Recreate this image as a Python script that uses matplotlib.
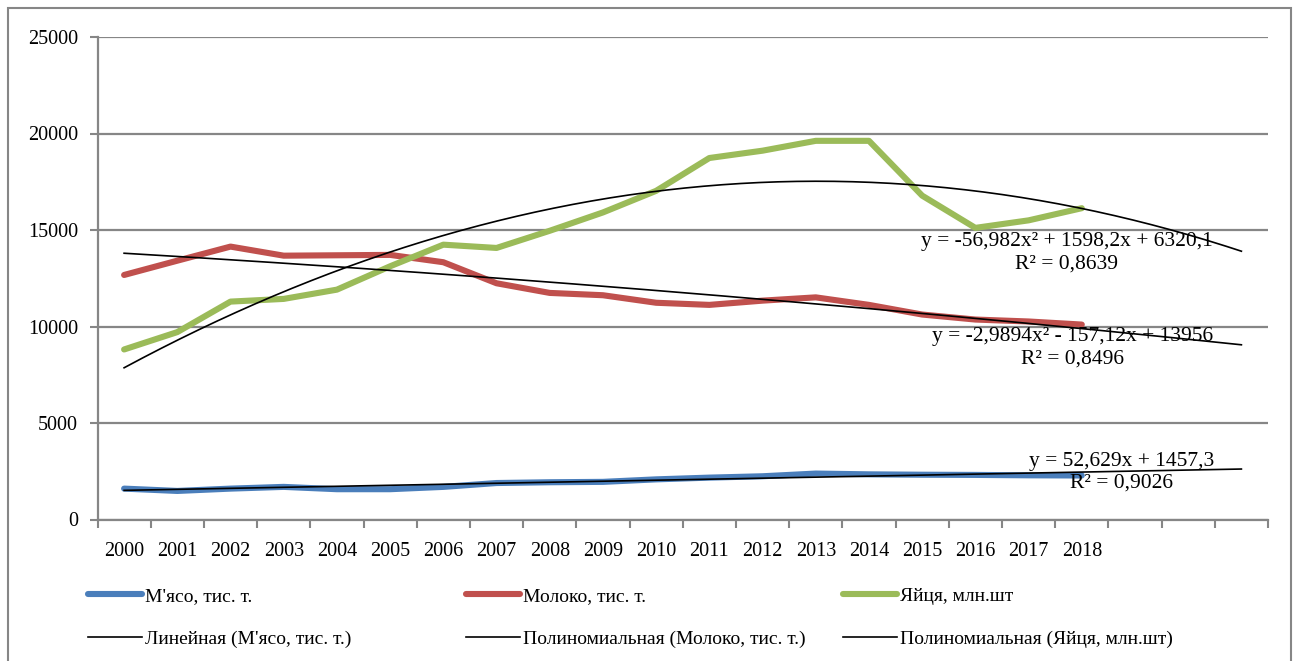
import numpy as np
import matplotlib
matplotlib.use("Agg")
import matplotlib.pyplot as plt
from matplotlib.patches import Rectangle

plt.rcParams['font.family'] = ['Liberation Serif', 'DejaVu Serif']

years = list(range(2000, 2019))
n_forecast = 3

meat = [1600, 1480, 1600, 1690, 1570, 1570, 1690, 1890, 1930, 1950,
        2080, 2170, 2240, 2380, 2340, 2320, 2310, 2290, 2280]
milk = [12670, 13410, 14140, 13670, 13690, 13710, 13330, 12240, 11740, 11620,
        11230, 11120, 11340, 11510, 11120, 10620, 10360, 10260, 10100]
eggs = [8810, 9710, 11290, 11430, 11910, 13120, 14240, 14070, 14960, 15910,
        17030, 18730, 19110, 19620, 19620, 16780, 15110, 15500, 16130]

names = ["М'ясо, тис. т.", "Молоко, тис. т.", "Яйця, млн.шт"]
trend_names = ["Линейная (М'ясо, тис. т.)", "Полиномиальная (Молоко, тис. т.)",
               "Полиномиальная (Яйця, млн.шт)"]
colors = ["#4A7EBB", "#C0504D", "#9BBB59"]

# trendline coefficients as printed on the chart (highest power first)
meat_trend = [52.629, 1457.3]
milk_trend = [-2.9894, -157.12, 13956]
eggs_trend = [-56.982, 1598.2, 6320.1]
trend_labels = ["y = 52,629x + 1457,3\nR² = 0,9026",
                "y = -2,9894x² - 157,12x + 13956\nR² = 0,8496",
                "y = -56,982x² + 1598,2x + 6320,1\nR² = 0,8639"]
label_pos = [(19.74, 2430), (18.82, 8900), (18.72, 13820)]

W, H = 1298, 661
fig = plt.figure(figsize=(W / 100, H / 100), dpi=100)
ax = fig.add_axes([97.5 / W, 1 - 519.5 / H, (1268 - 97.5) / W, (519.5 - 37) / H])

x = np.arange(1, len(years) + 1)
xt = np.linspace(1, len(years) + n_forecast, 300)

data_lines = []
for vals, c, nm in zip([meat, milk, eggs], colors, names):
    l, = ax.plot(x, vals, color=c, lw=4.4, label=nm, solid_capstyle='round', zorder=3)
    data_lines.append(l)

trend_lines = []
for coefs, nm in zip([meat_trend, milk_trend, eggs_trend], trend_names):
    l, = ax.plot(xt, np.polyval(coefs, xt), color='black', lw=1.2, label=nm, zorder=4)
    trend_lines.append(l)

for (tx, ty), txt in zip(label_pos, trend_labels):
    ax.text(tx, ty, txt, ha='center', va='center', multialignment='center',
            fontsize=15.5, linespacing=1.2, zorder=5)

grid_c = '#868686'
ax.set_xlim(0.5, len(years) + n_forecast + 0.5)
ax.set_ylim(0, 25000)
ax.set_yticks(np.arange(0, 25001, 5000))
ax.yaxis.grid(True, color=grid_c, lw=1.6)
ax.set_axisbelow(True)
for s in ['top', 'right']:
    ax.spines[s].set_visible(False)
for s in ['left', 'bottom']:
    ax.spines[s].set_color(grid_c)
    ax.spines[s].set_linewidth(1.6)

ax.set_xticks(np.arange(0.5, len(years) + n_forecast + 1, 1))
ax.set_xticklabels([])
ax.set_xticks(x, minor=True)
ax.set_xticklabels([str(y) for y in years], minor=True)
ax.tick_params(axis='x', which='major', length=6, width=1.5, color=grid_c, direction='out')
ax.tick_params(axis='x', which='minor', length=0, pad=16, labelsize=14.5)
ax.tick_params(axis='y', length=6, width=1.5, color=grid_c, pad=8, labelsize=14.5)

# legend: three columns placed by hand, data series on top row, trends below
col_x = [88, 466, 843]
for i in range(3):
    fig.legend([data_lines[i], trend_lines[i]], [names[i], trend_names[i]],
               loc='upper left', bbox_to_anchor=(col_x[i] / W, 1 - 587 / H),
               frameon=False, fontsize=14, handlelength=2.8, handletextpad=0.15,
               labelspacing=1.3, borderpad=0, borderaxespad=0)

fig.patches.append(Rectangle((8 / W, -0.02), (1291 - 8) / W, 1.02 - 8 / H,
                             transform=fig.transFigure, fill=False,
                             edgecolor=grid_c, lw=1.5))

fig.savefig("out.png", dpi=100)
